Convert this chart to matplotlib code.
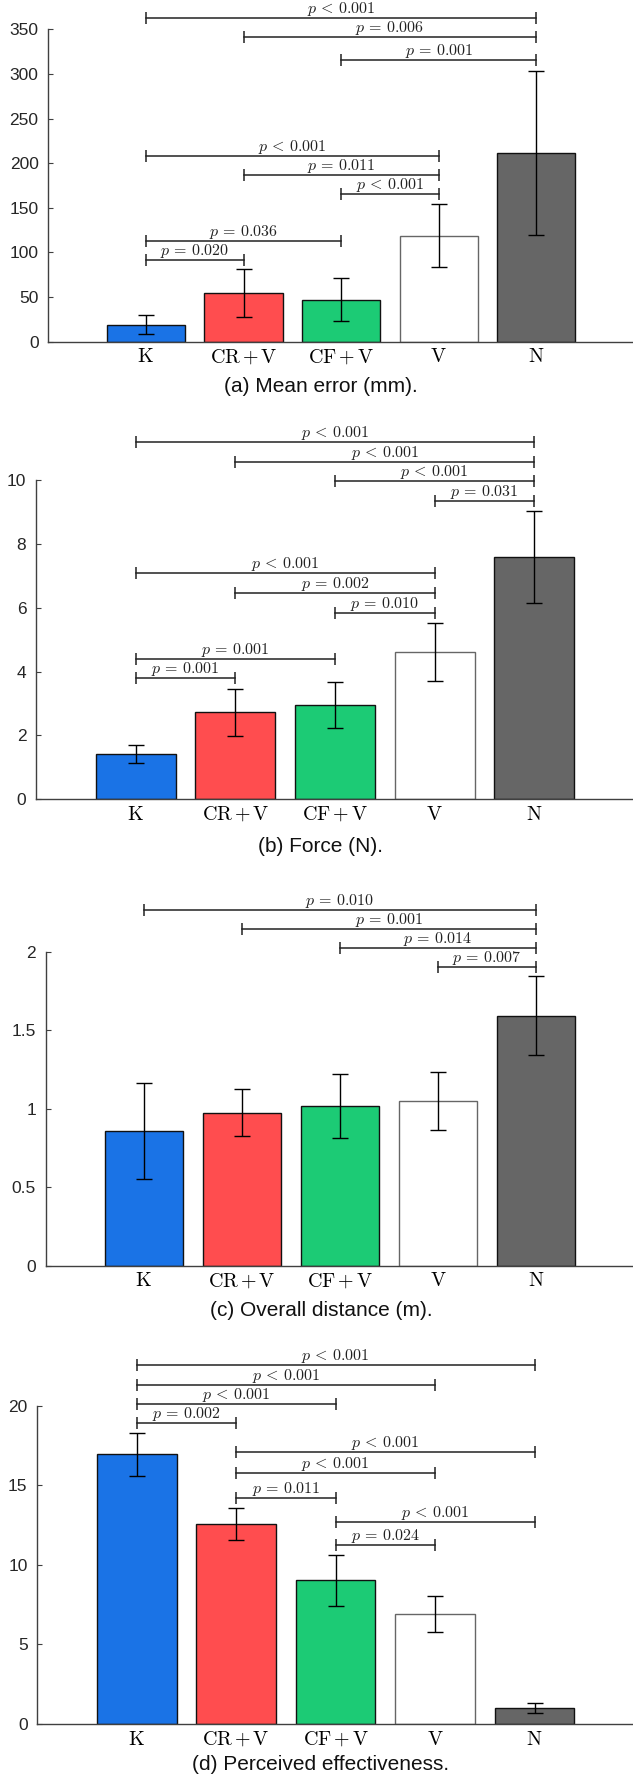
import matplotlib
matplotlib.use('Agg')
import matplotlib.pyplot as plt

plt.rcParams['font.family'] = ['Liberation Sans', 'DejaVu Sans']
plt.rcParams['mathtext.fontset'] = 'cm'

# conditions and bar colours
groups = ['K', 'CR+V', 'CF+V', 'V', 'N']
colors = ['#1a73e6', '#ff4d4f', '#1ccb75', '#ffffff', '#666666']
edges = ['#111111', '#111111', '#111111', '#666666', '#111111']

# (a) mean error (mm)
err_mean = [19, 54.5, 47, 118.6, 211.4]
err_sd = [10.7, 26.5, 24, 35.3, 92.2]
err_pairs = [(0, 4), (1, 4), (2, 4), (0, 3), (1, 3), (2, 3), (0, 2), (0, 1)]
err_levels = [362.3, 341.4, 315.3, 208.4, 186.8, 165.5, 112.8, 91.9]
err_p = ['p < 0.001', 'p = 0.006', 'p = 0.001', 'p < 0.001', 'p = 0.011',
         'p < 0.001', 'p = 0.036', 'p = 0.020']

# (b) force (N)
force_mean = [1.41, 2.72, 2.96, 4.61, 7.6]
force_sd = [0.27, 0.74, 0.72, 0.91, 1.45]
force_pairs = [(0, 4), (1, 4), (2, 4), (3, 4), (0, 3), (1, 3), (2, 3), (0, 2), (0, 1)]
force_levels = [11.19, 10.57, 9.98, 9.36, 7.08, 6.46, 5.84, 4.39, 3.79]
force_p = ['p < 0.001', 'p < 0.001', 'p < 0.001', 'p = 0.031', 'p < 0.001',
           'p = 0.002', 'p = 0.010', 'p = 0.001', 'p = 0.001']

# (c) overall distance (m)
dist_mean = [0.858, 0.975, 1.02, 1.05, 1.595]
dist_sd = [0.304, 0.15, 0.203, 0.185, 0.252]
dist_pairs = [(0, 4), (1, 4), (2, 4), (3, 4)]
dist_levels = [2.27, 2.147, 2.024, 1.903]
dist_p = ['p = 0.010', 'p = 0.001', 'p = 0.014', 'p = 0.007']

# (d) perceived effectiveness
eff_mean = [16.95, 12.57, 9.02, 6.92, 1.0]
eff_sd = [1.35, 1.03, 1.6, 1.15, 0.33]
eff_pairs = [(0, 4), (0, 3), (0, 2), (0, 1), (1, 4), (1, 3), (1, 2), (2, 4), (2, 3)]
eff_levels = [22.56, 21.32, 20.1, 18.91, 17.06, 15.74, 14.23, 12.69, 11.24]
eff_p = ['p < 0.001', 'p < 0.001', 'p < 0.001', 'p = 0.002', 'p < 0.001',
         'p < 0.001', 'p = 0.011', 'p < 0.001', 'p = 0.024']

W, H = 633, 1777
fig = plt.figure(figsize=(W / 100, H / 100), dpi=100)


def ptex(txt):
    # a bit more room round the relation sign, like LaTeX
    return '$' + txt.replace(' < ', r'\,<\,').replace(' = ', r'\,=\,') + '$'


def gtex(g):
    return '$' + r'\,{+}\,'.join(r'\mathrm{' + part + '}' for part in g.split('+')) + '$'


def panel(left, top, bottom, means, sds, ymax, yticks, yticklabels,
          pairs, levels, plabels, caption, cap_y):
    ax = fig.add_axes([left / W, 1 - bottom / H, (634 - left) / W, (bottom - top) / H])
    x = list(range(1, len(groups) + 1))
    ax.bar(x, means, width=0.8, color=colors, edgecolor=edges, linewidth=1.0, zorder=2)
    ax.errorbar(x, means, yerr=sds, fmt='none', ecolor='black', elinewidth=1.0,
                capsize=5.5, capthick=1.0, zorder=3)
    for (i, j), lev, txt in zip(pairs, levels, plabels):
        ax.plot([x[i], x[j]], [lev, lev], color='#222222', lw=1.1, marker='|',
                markersize=8, markeredgewidth=1.1, clip_on=False, zorder=4)
        ax.annotate(ptex(txt), ((x[i] + x[j]) / 2, lev), xytext=(0, 0),
                    textcoords='offset points', ha='center', va='bottom',
                    fontsize=11.5, color='#222222', annotation_clip=False)
    ax.set_xlim(0, 6)
    ax.set_ylim(0, ymax)
    ax.set_xticks(x)
    ax.set_xticklabels([gtex(g) for g in groups], fontsize=14.5)
    ax.set_yticks(yticks)
    ax.set_yticklabels(yticklabels, fontsize=12.5, color='#262626')
    ax.tick_params(axis='x', length=0, pad=4)
    ax.tick_params(axis='y', direction='in', length=3.6, width=0.8, colors='#404040',
                   labelcolor='#262626', pad=7)
    for s in ['top', 'right']:
        ax.spines[s].set_visible(False)
    for s in ['left', 'bottom']:
        ax.spines[s].set_color('#404040')
        ax.spines[s].set_linewidth(1.0)
    fig.text(321 / W, 1 - cap_y / H, caption, ha='center', va='center',
             fontsize=15, color='#111111')
    return ax


panel(48.3, 29.3, 341.7, err_mean, err_sd, 350, range(0, 351, 50),
      [str(v) for v in range(0, 351, 50)], err_pairs, err_levels, err_p,
      '(a) Mean error (mm).', 386.7)
panel(36, 480.3, 799, force_mean, force_sd, 10, range(0, 11, 2),
      [str(v) for v in range(0, 11, 2)], force_pairs, force_levels, force_p,
      '(b) Force (N).', 846.7)
panel(45.7, 952, 1265.7, dist_mean, dist_sd, 2, [0, 0.5, 1, 1.5, 2],
      ['0', '0.5', '1', '1.5', '2'], dist_pairs, dist_levels, dist_p,
      '(c) Overall distance (m).', 1310)
panel(37.3, 1405.7, 1724, eff_mean, eff_sd, 20, range(0, 21, 5),
      [str(v) for v in range(0, 21, 5)], eff_pairs, eff_levels, eff_p,
      '(d) Perceived effectiveness.', 1765)

fig.savefig('out.png', dpi=100)
